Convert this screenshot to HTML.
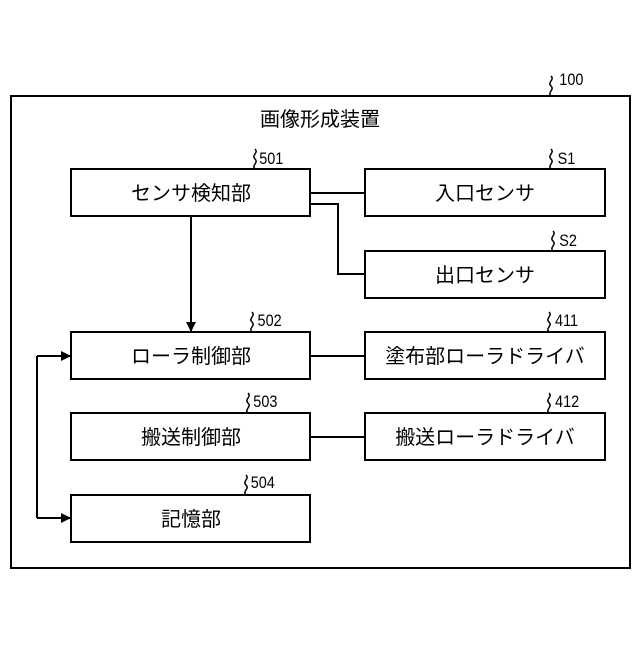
<!DOCTYPE html>
<html><head><meta charset="utf-8"><style>
body{margin:0;background:#fff}
svg text{font-family:"Liberation Sans","Noto Sans CJK JP",sans-serif;fill:#000}
</style></head><body>
<svg width="640" height="640" viewBox="0 0 640 640" xmlns="http://www.w3.org/2000/svg">
<defs><marker id="a" markerWidth="10" markerHeight="10" refX="9" refY="5" orient="auto" markerUnits="userSpaceOnUse"><path d="M0,0 L10,5 L0,10 z" fill="#000"/></marker></defs>
<g fill="none" stroke="#000" stroke-width="2">
<rect x="11" y="96" width="619" height="472"/>
<rect x="71" y="169" width="239" height="47"/>
<rect x="365" y="169" width="240" height="47"/>
<rect x="365" y="251" width="240" height="47"/>
<rect x="71" y="332" width="239" height="47"/>
<rect x="365" y="332" width="240" height="47"/>
<rect x="71" y="413" width="239" height="47"/>
<rect x="365" y="413" width="240" height="47"/>
<rect x="71" y="495" width="239" height="47"/>
<path d="M310 193 H365"/>
<path d="M310 204 H338 V274 H365"/>
<path d="M310 356 H365"/>
<path d="M310 437 H365"/>
<path d="M191 216 V331" marker-end="url(#a)"/>
<path d="M70 356 H37 V518 H70" stroke="none"/>
<path d="M37 356 V518"/>
<path d="M37 356 H70" marker-end="url(#a)"/>
<path d="M37 518 H70" marker-end="url(#a)"/>
<g stroke-width="1.5">
<path d="M551 96 c-4-4 4-6 0-10 c-4-4 4-6 0-10"/>
<path d="M255 169 c-4-4 4-6 0-10 c-4-4 4-6 0-10"/>
<path d="M551 169 c-4-4 4-6 0-10 c-4-4 4-6 0-10"/>
<path d="M553 251 c-4-4 4-6 0-10 c-4-4 4-6 0-10"/>
<path d="M252 332 c-4-4 4-6 0-10 c-4-4 4-6 0-10"/>
<path d="M549 332 c-4-4 4-6 0-10 c-4-4 4-6 0-10"/>
<path d="M248 413 c-4-4 4-6 0-10 c-4-4 4-6 0-10"/>
<path d="M549 413 c-4-4 4-6 0-10 c-4-4 4-6 0-10"/>
<path d="M246 495 c-4-4 4-6 0-10 c-4-4 4-6 0-10"/>
</g>
</g>
<g font-size="17" transform="scale(0.85,1)">
<text x="658" y="85">100</text>
<text x="305" y="164">501</text>
<text x="656" y="164">S1</text>
<text x="658" y="246">S2</text>
<text x="303" y="326">502</text>
<text x="653" y="326">411</text>
<text x="298" y="407">503</text>
<text x="653" y="407">412</text>
<text x="295" y="488">504</text>
</g>
<g font-size="20" text-anchor="middle">
<text x="320" y="126">画像形成装置</text>
<text x="191" y="200">センサ検知部</text>
<text x="485" y="200">入口センサ</text>
<text x="485" y="282">出口センサ</text>
<text x="191" y="363">ローラ制御部</text>
<text x="485" y="363">塗布部ローラドライバ</text>
<text x="191" y="444">搬送制御部</text>
<text x="485" y="444">搬送ローラドライバ</text>
<text x="191" y="526">記憶部</text>
</g>
</svg>
</body></html>
